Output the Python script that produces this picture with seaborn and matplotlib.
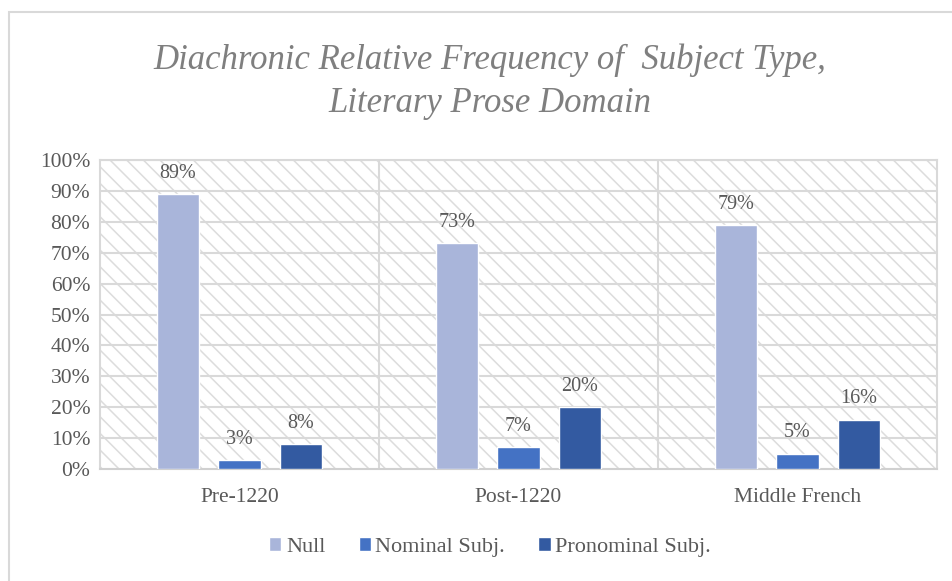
import matplotlib
matplotlib.use("Agg")
import matplotlib.pyplot as plt
import pandas as pd
import seaborn as sns
from matplotlib.patches import Rectangle

periods = ["Pre-1220", "Post-1220", "Middle French"]
subject_types = ["Null", "Nominal Subj.", "Pronominal Subj."]
null_pct = [89, 73, 79]
nominal_pct = [3, 7, 5]
pronominal_pct = [8, 20, 16]
y_ticks = [0, 10, 20, 30, 40, 50, 60, 70, 80, 90, 100]
colors = ["#a9b5da", "#4472c4", "#335aa1"]

df = pd.DataFrame({
    "period": periods * 3,
    "type": [subject_types[0]] * 3 + [subject_types[1]] * 3 + [subject_types[2]] * 3,
    "pct": null_pct + nominal_pct + pronominal_pct,
})

sns.set_theme(style="white")
plt.rcParams["font.family"] = ["Liberation Serif", "DejaVu Serif"]
plt.rcParams["hatch.linewidth"] = 1.1
plt.rcParams["hatch.color"] = "#dcdcdc"

grid_col = "#d9d9d9"
text_col = "#595959"

fig = plt.figure(figsize=(9.52, 5.81), dpi=100)
ax = fig.add_axes([100 / 952, 1 - 469 / 581, 837 / 952, 309 / 581])

# chart border (partly cropped in the original)
fig.patches.append(Rectangle((9 / 952, -0.1), 1.2, 1 - 12 / 581 + 0.1,
                             transform=fig.transFigure, fill=False,
                             edgecolor="#d9d9d9", linewidth=1.5, zorder=0))

# hatched plot area
ax.add_patch(Rectangle((0, 0), 1, 1, transform=ax.transAxes, facecolor="white",
                       edgecolor="#dcdcdc", hatch="\\\\", linewidth=0, zorder=0))

sns.barplot(data=df, x="period", y="pct", hue="type", order=periods,
            hue_order=subject_types, palette=colors, width=0.66, gap=0.31,
            saturation=1, ax=ax, legend=True, zorder=3)

for cont in ax.containers:
    labels = [f"{v:.0f}%" for v in cont.datavalues]
    ax.bar_label(cont, labels=labels, padding=8, fontsize=14.5, color=text_col)

ax.set_ylim(0, 100)
ax.set_xlim(-0.5, 2.5)
ax.set_yticks(y_ticks)
ax.set_yticklabels([f"{t}%" for t in y_ticks], fontsize=15.5, color=text_col)
ax.tick_params(axis="x", labelsize=15.5, labelcolor=text_col, length=0, pad=14)
ax.tick_params(axis="y", length=0, pad=7)
ax.set_xlabel("")
ax.set_ylabel("")

for y in y_ticks[1:]:
    ax.axhline(y, color=grid_col, linewidth=1.5, zorder=1)
for x in [0.5, 1.5]:
    ax.axvline(x, color=grid_col, linewidth=1.5, zorder=1)
for side in ["left", "right", "top"]:
    ax.spines[side].set_color(grid_col)
    ax.spines[side].set_linewidth(1.5)
ax.spines["bottom"].set_color("#d0d0d0")
ax.spines["bottom"].set_linewidth(1.5)

title_style = dict(ha="center", va="center", fontsize=25, style="italic", color="#7f7f7f")
fig.text(490 / 952, 1 - 60 / 581, "Diachronic Relative Frequency of  Subject Type,", **title_style)
fig.text(490 / 952, 1 - 103 / 581, "Literary Prose Domain", **title_style)

handles, labels = ax.get_legend_handles_labels()
ax.legend(handles, labels, loc="center", bbox_to_anchor=(490 / 952, 1 - 547 / 581),
          bbox_transform=fig.transFigure, ncol=3, frameon=False, fontsize=16,
          handlelength=0.55, handleheight=0.55, handletextpad=0.2, columnspacing=1.5,
          labelcolor=text_col)

fig.savefig("out.png", dpi=100)
